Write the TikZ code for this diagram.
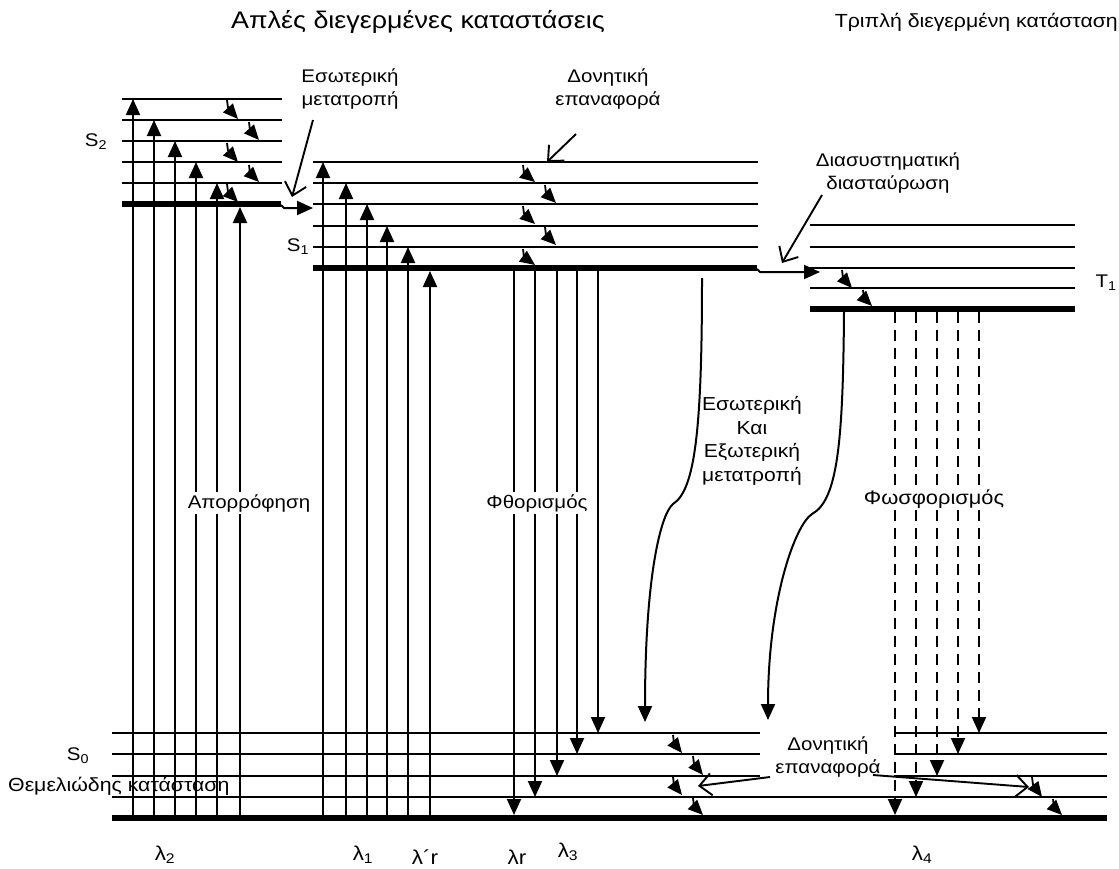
\documentclass[tikz,border=0pt]{standalone}
\usepackage{fontspec}
\setmainfont{Liberation Sans}[FakeStretch=1.12]
\usetikzlibrary{arrows.meta}
\begin{document}
\begin{tikzpicture}[x=1pt,y=-1pt,
  lvl/.style={line width=1.9pt},
  gnd/.style={line width=5.5pt},
  up/.style={line width=2pt,-{Triangle[width=14pt,length=16pt]}},
  phos/.style={line width=2pt,dash pattern=on 11pt off 7pt,-{Triangle[width=14pt,length=16pt]}},
  vib/.style={line width=1.8pt,-{Triangle[width=13pt,length=15pt]}},
  ptr/.style={line width=1.9pt,-{Straight Barb[length=12pt,width=22pt]}},
  lbl/.style={font=\fontsize{18.3}{23}\selectfont,align=center,inner sep=0pt},
  ttl/.style={font=\fontsize{24}{28}\selectfont,inner sep=0pt},
  lam/.style={font=\fontsize{20}{24}\selectfont,inner sep=0pt},
  cover/.style={lbl,fill=white,inner sep=2pt},
]
\useasboundingbox (0,0) rectangle (1119,868);

% ---- S2 levels ----
\foreach \y in {99,120,141,162,183} \draw[lvl] (122,\y) -- (282,\y);
\draw[gnd] (122,204) -- (281,204);
% ---- S1 levels ----
\foreach \y in {162,183,204,226,247} \draw[lvl] (313,\y) -- (758,\y);
\draw[gnd] (313,268) -- (757,268);
% ---- T1 levels ----
\foreach \y in {225,247,268,288} \draw[lvl] (810,\y) -- (1075,\y);
\draw[gnd] (810,309) -- (1075,309);
% ---- S0 levels ----
\foreach \y in {733,754,776,797} \draw[lvl] (112,\y) -- (1107,\y);
\draw[gnd] (112,818) -- (1107,818);

% ---- absorption ----
\foreach \x/\y in {133/99,154/120,175/141,196/162,217/183,240/207}
  \draw[up] (\x,818) -- (\x,\y);
\foreach \x/\y in {323/162,346/183,367/204,387/226,408/247,430/271}
  \draw[up] (\x,818) -- (\x,\y);
% ---- fluorescence ----
\foreach \x/\y in {514/815,535/797,557/776,577/754,598/733}
  \draw[up] (\x,268) -- (\x,\y);
% ---- phosphorescence ----
\foreach \x/\y in {895/815,916/797,937/776,958/754,979/733}
  \draw[phos] (\x,312) -- (\x,\y);

% ---- internal conversion / ISC transfer ----
\draw[up] (281,205) -- (284,208) -- (313,208);
\draw[up] (757,269) -- (760,272) -- (820,272);

% ---- curved non-radiative arrows ----
\draw[up] (702,278) .. controls (702,430) and (695,490) .. (673,504)
          .. controls (660,515) and (645,580) .. (645,722);
\draw[up] (844,312) .. controls (843,440) and (838,500) .. (812,514)
          .. controls (795,525) and (768,600) .. (768,720);

% ---- vibrational relaxation ----
\foreach \a/\b/\c/\d in {227/100/238/119, 249/122/259/140, 227/143/238/162, 249/165/259/182, 227/184/238/202,
  523/165/535/182, 545/185/556/203, 523/206/535/224, 545/227/556/245, 523/249/535/265,
  842/270/852/288, 863/290/872/306,
  673/735/682/753, 693/756/703/775, 673/777/682/795, 693/798/703/815,
  1032/777/1042/797, 1053/799/1062/815}
  \draw[vib] (\a,\b) .. controls (\a+1,\b+8) .. (\c,\d);

% ---- labels ----
\node[ttl] (t1) at (418,22) {Απλές διεγερμένες καταστάσεις};
\node[ttl,font=\fontsize{19}{24}\selectfont,anchor=east] (t2) at (1118,22) {Τριπλή διεγερμένη κατάσταση};
\node[lbl] (ic) at (350,89) {Εσωτερική\\μετατροπή};
\node[lbl] (vr) at (608,89) {Δονητική\\επαναφορά};
\node[lbl] (isc) at (888,173) {Διασυστηματική\\διασταύρωση};
\node[lbl] (s2) at (96,142) {S\textsubscript{2}};
\node[lbl] (s1) at (298,247) {S\textsubscript{1}};
\node[lbl] (tt1) at (1106,283) {T\textsubscript{1}};
\node[lbl] (s0) at (78,756) {S\textsubscript{0}};
\node[lbl,font=\fontsize{19}{22}\selectfont,anchor=west] (gs) at (8,786) {Θεμελιώδης κατάσταση};
\node[cover] (abs) at (249,503) {Απορρόφηση};
\node[cover] (fl) at (537,503) {Φθορισμός};
\node[cover,font=\fontsize{19.5}{23}\selectfont] (ph) at (934,499) {Φωσφορισμός};
\node[lbl,font=\fontsize{18.8}{23.5}\selectfont] (nr) at (752,441) {Εσωτερική\\Και\\Εξωτερική\\μετατροπή};
\path[fill=white] (760,722) rectangle (894,786);
\node[lbl] (vr2) at (828,757) {Δονητική\\επαναφορά};

% ---- pointers ----
\coordinate (p1) at (313,120); \coordinate (q1) at (292,197);
\coordinate (p2) at (576,134); \coordinate (q2) at (547,162);
\coordinate (p3) at (822,195); \coordinate (q3) at (782,263);
\coordinate (p4) at (770,777); \coordinate (q4) at (698,786);
\coordinate (p5) at (873,775); \coordinate (q5) at (1029,787);
\draw[ptr] (p1) -- (q1);
\draw[ptr] (p2) -- (q2);
\draw[ptr] (p3) -- (q3);
\draw[ptr] (p4) -- (q4);
\draw[ptr] (p5) -- (q5);

% ---- wavelengths ----
\node[lam] (l2) at (165,855) {λ\textsubscript{2}};
\node[lam] (l1) at (363,855) {λ\textsubscript{1}};
\node[lam] (lpr) at (425,857) {λ´r};
\node[lam] (lr) at (517,857) {λr};
\node[lam] (l3) at (568,852) {λ\textsubscript{3}};
\node[lam] (l4) at (922,855) {λ\textsubscript{4}};
\end{tikzpicture}
\end{document}
